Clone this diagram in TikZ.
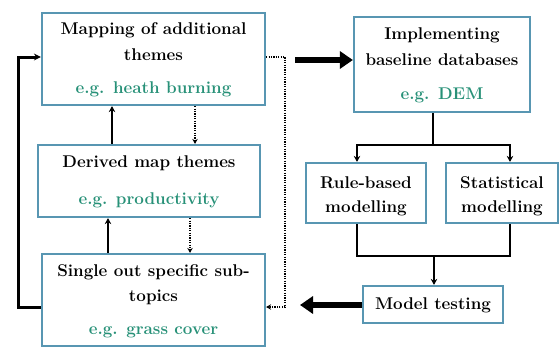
\documentclass[tikz,border=0pt]{standalone}
\usetikzlibrary{arrows.meta}
\definecolor{boxblue}{RGB}{88,150,178}
\definecolor{egreen}{RGB}{40,145,120}
\begin{document}
\begin{tikzpicture}[x=1pt,y=-1pt,
  box/.style={draw=boxblue,line width=2.2pt,rectangle,inner sep=0pt},
  txt/.style={font=\fontsize{17}{19}\selectfont\bfseries,inner sep=0pt,anchor=center},
  eg/.style={txt,text=egreen},
  solidarr/.style={line width=2.8pt,-{Stealth[length=6pt,width=6.5pt]}},
  dotarr/.style={line width=2pt,dash pattern=on 1.2pt off 1.2pt,-{Stealth[length=5pt,width=5.5pt]}},
  bigarr/.style={line width=5.5pt,-{Triangle[length=13pt,width=17pt]}},
  conn/.style={line width=2.8pt}]
\useasboundingbox (0,0) rectangle (560,349);
% boxes
\node[box,minimum width=223pt,minimum height=92pt] (map) at (153.5,59) {};
\node[box,minimum width=222pt,minimum height=72pt] (der) at (149,181) {};
\node[box,minimum width=223pt,minimum height=92pt] (sing) at (153.5,300) {};
\node[box,minimum width=176pt,minimum height=95pt] (impl) at (442,64.5) {};
\node[box,minimum width=120pt,minimum height=60pt] (rule) at (366,193) {};
\node[box,minimum width=112pt,minimum height=60pt] (stat) at (502,193) {};
\node[box,minimum width=140pt,minimum height=37pt] (model) at (433,304.5) {};
% texts
\node[txt] (t1a) at (153.5,30) {Mapping of additional};
\node[txt] (t1b) at (153.5,55) {themes};
\node[eg] (t1c) at (153.5,89) {e.g. heath burning};
\node[txt] (t2a) at (149,163) {Derived map themes};
\node[eg] (t2b) at (149,200) {e.g. productivity};
\node[txt] (t3a) at (153.5,272) {Single out specific sub-};
\node[txt] (t3b) at (153.5,297) {topics};
\node[eg] (t3c) at (153.5,332) {e.g. grass cover};
\node[txt] (t4a) at (442,35) {Implementing};
\node[txt] (t4b) at (442,60) {baseline databases};
\node[eg] (t4c) at (442,95) {e.g. DEM};
\node[txt] (t5a) at (366,183) {Rule-based};
\node[txt] (t5b) at (366,208) {modelling};
\node[txt] (t6a) at (502,183) {Statistical};
\node[txt] (t6b) at (502,208) {modelling};
\node[txt] (t7) at (433,305) {Model testing};
% left column connectors
\draw[solidarr] (der.north -| 112,0) -- (map.south -| 112,0);
\draw[solidarr] (sing.north -| 108,0) -- (der.south -| 108,0);
\draw[dotarr] (map.south -| 195,0) -- (der.north -| 195,0);
\draw[dotarr] (der.south -| 190,0) -- (sing.north -| 190,0);
\coordinate (fbA) at (18,307);
\coordinate (fbB) at (18,57);
\draw[line width=3pt,-{Stealth[length=7pt,width=7pt]}] (sing.west |- 0,307) -- (fbA) -- (fbB) -- (map.west |- 0,57);
\coordinate (dA) at (285,57);
\coordinate (dB) at (285,307);
\draw[dotarr] (map.east |- 0,57) -- (dA) -- (dB) -- (sing.east |- 0,307);
% big arrows
\coordinate (b1) at (295,60);
\draw[bigarr] (b1) -- (impl.west |- 0,60);
\coordinate (b2) at (300,305);
\draw[bigarr] (model.west |- 0,305) -- (b2);
% right side
\coordinate (s1) at (433,145);
\coordinate (s1l) at (357,145);
\coordinate (s1r) at (510,145);
\draw[conn] (impl.south -| 433,0) -- (s1);
\draw[conn,-{Stealth[length=6pt,width=6.5pt]}] (s1) -- (s1l) -- (rule.north -| 357,0);
\draw[conn,-{Stealth[length=6pt,width=6.5pt]}] (s1) -- (s1r) -- (stat.north -| 510,0);
\coordinate (m1) at (434,256);
\draw[conn] (rule.south -| 357,0) -- (357,256) -- (510,256) -- (stat.south -| 510,0);
\draw[conn,-{Stealth[length=6pt,width=6.5pt]}] (m1) -- (model.north -| 434,0);
\end{tikzpicture}
\end{document}
